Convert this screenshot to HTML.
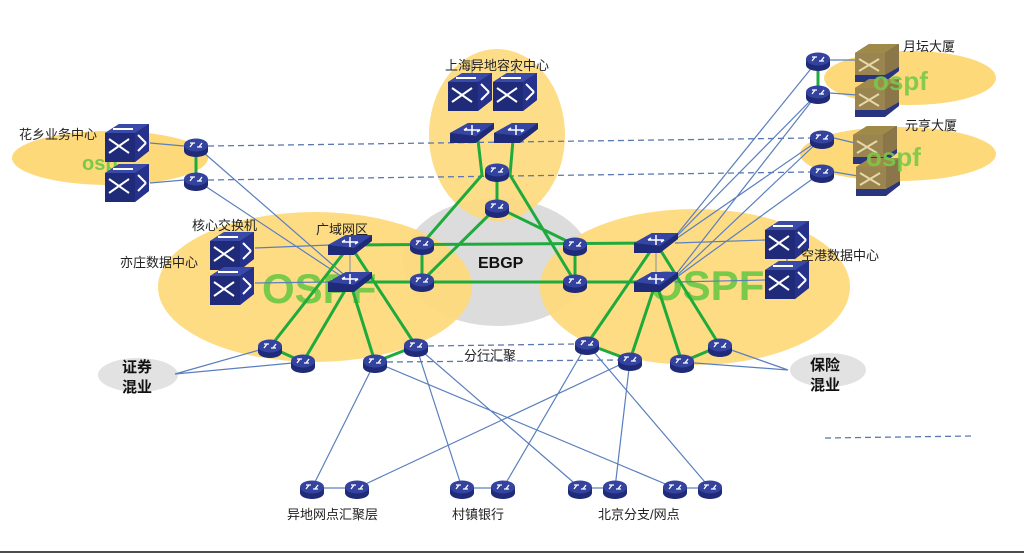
<!DOCTYPE html>
<html><head><meta charset="utf-8"><style>
body{margin:0;background:#fff}
svg{display:block}
text{font-family:"Liberation Sans","Noto Sans CJK SC",sans-serif}
</style></head><body>
<svg width="1024" height="554" viewBox="0 0 1024 554" xmlns="http://www.w3.org/2000/svg">
<defs>
<g id="rt">
<path d="M-12,-3 v6 a12,6 0 0 0 24,0 v-6 z" fill="#1f2a78"/>
<ellipse cx="0" cy="-3" rx="12" ry="6.5" fill="#34439e"/>
<path d="M-6,-5 h5 M1,-1 h5 M-6,-1 l3,-4 M6,-5 l-3,4" stroke="#fff" stroke-width="1.3" fill="none"/>
</g>
<g id="sw">
<path d="M-22,-10 L-8,-19 L22,-19 L22,8 L8,19 L-22,19 Z" fill="#1f2a78"/>
<path d="M-22,-10 L-8,-19 L22,-19 L8,-10 Z" fill="#3a4aa8"/>
<path d="M8,-10 L22,-19 L22,8 L8,19 Z" fill="#25318a"/>
<path d="M-18,-4 l20,14 M-18,10 l20,-14 M-14,-14 h20 M11,-8 l8,8 M11,8 l8,-8" stroke="#fff" stroke-width="2" fill="none"/>
</g>
<g id="swy">
<path d="M-22,-10 L-8,-19 L22,-19 L22,8 L8,19 L-22,19 Z" fill="#2a357f"/>
<path d="M-22,-10 L-8,-19 L22,-19 L8,-10 Z" fill="#a08a4a"/>
<path d="M-22,-10 L8,-10 L8,12 L-22,12 Z" fill="#9a8550"/>
<path d="M8,-10 L22,-19 L22,4 L8,12 Z" fill="#8a7648"/>
<path d="M-18,-4 l20,12 M-18,8 l20,-12" stroke="#e6d8a8" stroke-width="2" fill="none"/>
</g>
<g id="l3">
<path d="M-22,0 L-4,-10 L22,-10 L22,-4 L4,10 L-22,10 Z" fill="#1f2a78"/>
<path d="M-22,0 L-4,-10 L22,-10 L4,3 Z" fill="#3545a4"/>
<path d="M-8,-3 h16 M0,-8 v10 M-8,-3 l3,-2 M8,-3 l-3,2" stroke="#fff" stroke-width="1.5" fill="none"/>
</g>
</defs>

<ellipse cx="110" cy="158" rx="98" ry="27" fill="#fdd97a"/>
<ellipse cx="910" cy="78" rx="86" ry="27" fill="#fdd97a"/>
<ellipse cx="898" cy="154" rx="98" ry="27" fill="#fdd97a"/>
<ellipse cx="497" cy="262" rx="94" ry="64" fill="#dcdcdc"/>
<ellipse cx="497" cy="135" rx="68" ry="86" fill="#fdd97a" opacity="0.9"/>
<ellipse cx="315" cy="287" rx="157" ry="75" fill="#fdd97a" opacity="0.92"/>
<ellipse cx="695" cy="287" rx="155" ry="78" fill="#fdd97a" opacity="0.92"/>
<ellipse cx="138" cy="375" rx="40" ry="17" fill="#e2e2e2"/>
<ellipse cx="828" cy="370" rx="38" ry="17" fill="#e2e2e2"/>

<text x="262" y="303" font-size="42" font-weight="bold" fill="#79c94a">OSPF</text>
<text x="650" y="300" font-size="42" font-weight="bold" fill="#79c94a">OSPF</text>
<text x="82" y="170" font-size="20" font-weight="bold" fill="#79c94a">osp</text>

<g stroke="#5a78b0" stroke-width="1.3" stroke-dasharray="6,4" fill="none">
<path d="M208,146 L810,138 M208,180 L810,172"/>
<path d="M428,346 L575,344 M387,362 L618,360"/>
<path d="M825,438 L973,436"/>
</g>

<g stroke="#5a7fbf" stroke-width="1.2" fill="none">
<path d="M150,143 L184,146 M150,183 L184,180"/>
<path d="M196,146 L350,280 M196,180 L350,282"/>
<path d="M255,248 L330,245 M255,283 L330,282"/>
<path d="M675,243 L765,240 M675,282 L765,280 M787,258 L787,262"/>
<path d="M670,243 L818,60 M670,243 L818,93 M670,243 L822,138 M670,282 L818,93 M670,282 L822,138 M670,282 L822,172"/>
<path d="M830,60 L857,60 M830,93 L857,95 M834,138 L855,143 M834,172 L858,176"/>
<path d="M175,374 L270,347 M175,374 L303,362 M788,370 L682,362 M788,370 L720,346"/>
<path d="M375,362 L312,488 M375,362 L675,488 M416,346 L462,488 M416,346 L580,488 M587,344 L503,488 M587,344 L710,488 M630,360 L357,488 M630,360 L615,488"/>
<path d="M312,488 L357,488 M462,488 L503,488 M580,488 L615,488 M675,488 L710,488"/>
<path d="M472,80 v-20 M515,80 v-20" stroke="#888"/>
</g>
<path d="M350,245 L350,282" stroke="#999" stroke-width="1.2"/>
<path d="M656,243 L656,282" stroke="#999" stroke-width="1.2"/>

<g stroke="#1faa3c" stroke-width="3" fill="none" stroke-linejoin="round">
<path d="M196,146 L196,180 M818,60 L818,93"/>
<path d="M350,245 L656,243 M350,282 L656,282"/>
<path d="M422,244 L422,281 M575,245 L575,282"/>
<path d="M478,140 L482,175 L422,244 M497,172 L497,207 L422,281"/>
<path d="M513,140 L510,175 L575,282 M497,207 L575,245"/>
<path d="M350,245 L270,347 L303,362 L350,282 L375,362 L416,346 L350,245"/>
<path d="M656,243 L587,344 L630,360 L656,282 L682,362 L720,346 L656,243"/>
</g>

<use href="#sw" x="127" y="143"/><use href="#sw" x="127" y="183"/>
<use href="#sw" x="232" y="251"/><use href="#sw" x="232" y="286"/>
<use href="#sw" x="470" y="92"/><use href="#sw" x="515" y="92"/>
<use href="#sw" x="787" y="240"/><use href="#sw" x="787" y="280"/>
<use href="#swy" x="877" y="63"/><use href="#swy" x="877" y="98"/>
<use href="#swy" x="875" y="145"/><use href="#swy" x="878" y="177"/>
<use href="#l3" x="350" y="245"/><use href="#l3" x="350" y="282"/>
<use href="#l3" x="656" y="243"/><use href="#l3" x="656" y="282"/>
<use href="#l3" x="472" y="133"/><use href="#l3" x="516" y="133"/>
<g>
<use href="#rt" x="196" y="148"/><use href="#rt" x="196" y="182"/>
<use href="#rt" x="497" y="173"/><use href="#rt" x="497" y="209"/>
<use href="#rt" x="422" y="246"/><use href="#rt" x="422" y="283"/>
<use href="#rt" x="575" y="247"/><use href="#rt" x="575" y="284"/>
<use href="#rt" x="818" y="62"/><use href="#rt" x="818" y="95"/>
<use href="#rt" x="822" y="140"/><use href="#rt" x="822" y="174"/>
<use href="#rt" x="270" y="349"/><use href="#rt" x="303" y="364"/>
<use href="#rt" x="375" y="364"/><use href="#rt" x="416" y="348"/>
<use href="#rt" x="587" y="346"/><use href="#rt" x="630" y="362"/>
<use href="#rt" x="682" y="364"/><use href="#rt" x="720" y="348"/>
<use href="#rt" x="312" y="490"/><use href="#rt" x="357" y="490"/>
<use href="#rt" x="462" y="490"/><use href="#rt" x="503" y="490"/>
<use href="#rt" x="580" y="490"/><use href="#rt" x="615" y="490"/>
<use href="#rt" x="675" y="490"/><use href="#rt" x="710" y="490"/>
</g>

<text x="873" y="90" font-size="26" font-weight="bold" fill="#79c94a" opacity="0.9">ospf</text>
<text x="866" y="166" font-size="26" font-weight="bold" fill="#79c94a" opacity="0.9">ospf</text>

<g font-size="13" fill="#222">
<text x="497" y="70" text-anchor="middle">上海异地容灾中心</text>
<text x="19" y="139">花乡业务中心</text>
<text x="192" y="230">核心交换机</text>
<text x="316" y="234">广域网区</text>
<text x="120" y="267">亦庄数据中心</text>
<text x="903" y="51">月坛大厦</text>
<text x="905" y="130">元亨大厦</text>
<text x="801" y="260">空港数据中心</text>
<text x="464" y="360">分行汇聚</text>
<text x="287" y="519">异地网点汇聚层</text>
<text x="452" y="519">村镇银行</text>
<text x="598" y="519">北京分支/网点</text>
</g>
<text x="478" y="268" font-size="16" font-weight="bold" fill="#111">EBGP</text>
<g font-size="15" font-weight="bold" fill="#111">
<text x="122" y="372">证券</text><text x="122" y="392">混业</text>
<text x="810" y="370">保险</text><text x="810" y="390">混业</text>
</g>
<path d="M0,552 H1024" stroke="#111" stroke-width="1.5"/>
</svg>
</body></html>
